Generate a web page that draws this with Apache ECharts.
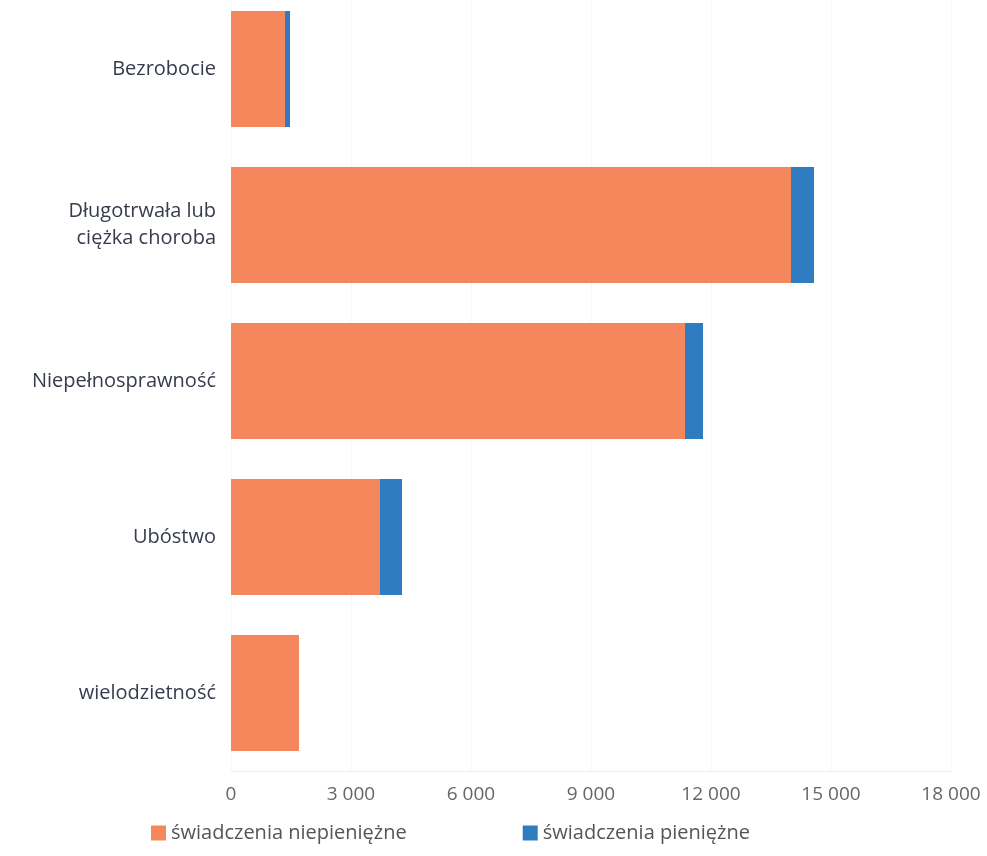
<!DOCTYPE html>
<html><head><meta charset="utf-8">
<script src="https://cdn.jsdelivr.net/npm/echarts@6/dist/echarts.min.js"></script>
<style>html,body{margin:0;padding:0;background:#fff}#c{width:987px;height:856px}</style>
</head><body><div id="c"></div>
<script>
const categories = ['Bezrobocie', 'Długotrwała lub\nciężka choroba', 'Niepełnosprawność', 'Ubóstwo', 'wielodzietność'];
const niepieniezne = [1350, 14000, 11350, 3725, 1700];
const pieniezne = [125, 575, 450, 550, 0];
const seriesNames = ['świadczenia niepieniężne', 'świadczenia pieniężne'];
const xTicks = {min: 0, max: 18000, interval: 3000};

const chart = echarts.init(document.getElementById('c'));
const font = '"Open Sans", "Noto Sans", sans-serif';
chart.setOption({
  animation: false,
  textStyle: {fontFamily: font},
  grid: {left: 231, right: 36, top: -9, height: 780, outerBoundsMode: 'none', containLabel: false},
  legend: {
    left: 146, bottom: 8, itemWidth: 15, itemHeight: 15, itemGap: 116,
    icon: 'rect',
    textStyle: {fontSize: 20, color: '#555', fontFamily: font},
    data: seriesNames
  },
  xAxis: {
    type: 'value', min: xTicks.min, max: xTicks.max, interval: xTicks.interval,
    axisLine: {show: true, lineStyle: {color: '#eeeeee'}},
    axisTick: {show: false},
    splitLine: {show: true, lineStyle: {color: '#f7f7f7'}},
    axisLabel: {fontSize: 19, color: '#666', margin: 14,
      formatter: v => String(v).replace(/\B(?=(\d{3})+(?!\d))/g, ' ')}
  },
  yAxis: {
    type: 'category', inverse: true, data: categories,
    axisLine: {show: false}, axisTick: {show: false},
    axisLabel: {fontSize: 20, color: '#363c4e', margin: 15, lineHeight: 27, align: 'right'}
  },
  series: [
    {name: seriesNames[0], type: 'bar', stack: 's', data: niepieniezne, barWidth: 116,
     itemStyle: {color: '#F5875C'}},
    {name: seriesNames[1], type: 'bar', stack: 's', data: pieniezne, barWidth: 116,
     itemStyle: {color: '#2F7DC0'}}
  ]
});
</script></body></html>
